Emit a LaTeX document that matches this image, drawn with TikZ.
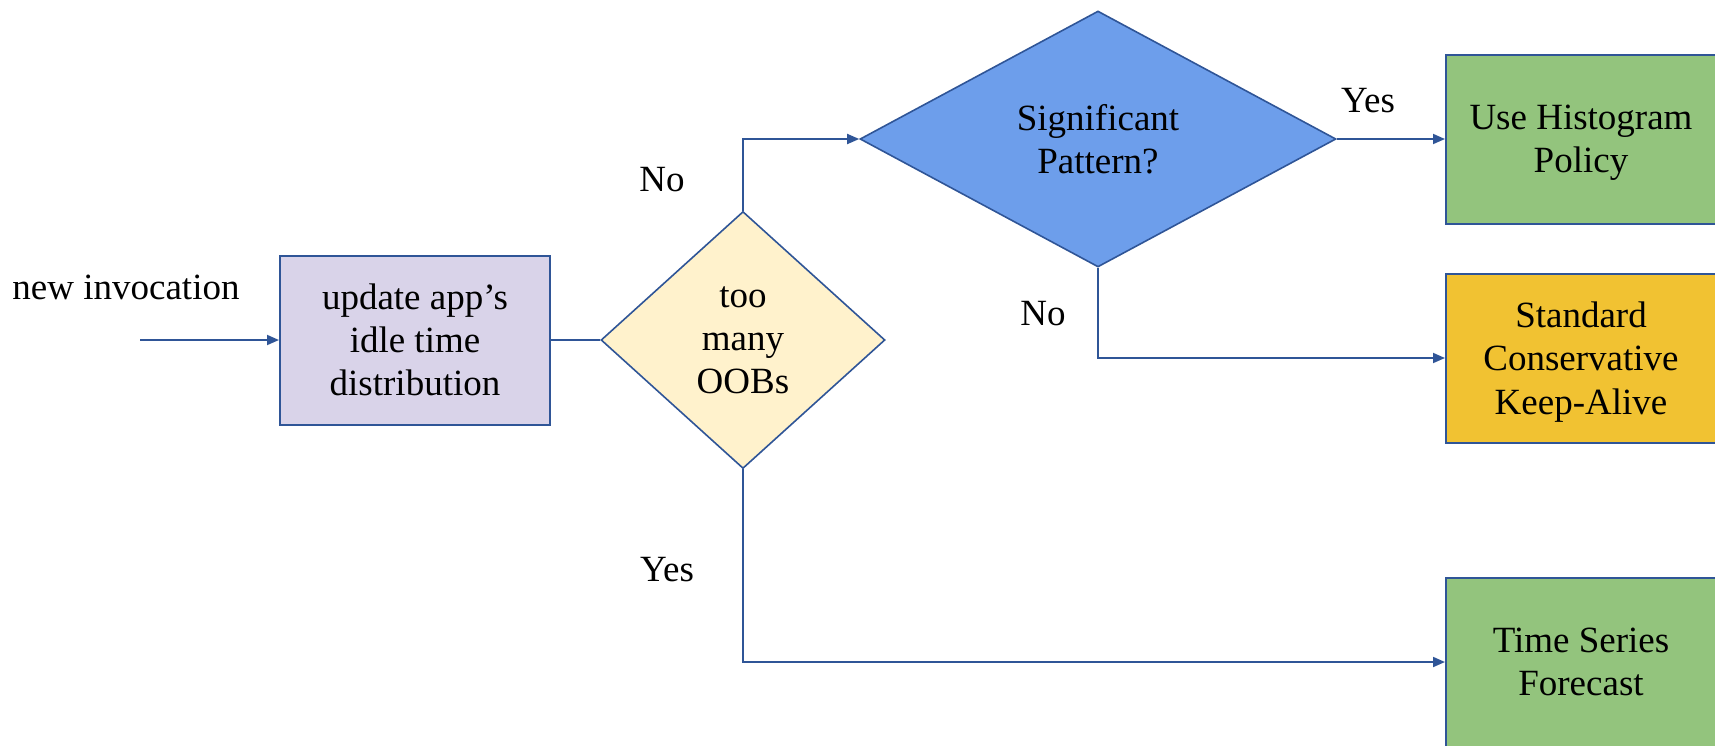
\documentclass[tikz,border=0pt]{standalone}
\usepackage{fontspec}
\setmainfont{Liberation Serif}
\usetikzlibrary{shapes.geometric,arrows.meta}
\definecolor{edgeblue}{HTML}{2F5597}
\definecolor{lavender}{HTML}{D9D3E9}
\definecolor{cream}{HTML}{FFF2CC}
\definecolor{skyblue}{HTML}{6D9EEB}
\definecolor{leafgreen}{HTML}{93C47D}
\definecolor{amber}{HTML}{F1C232}
\begin{document}
\begin{tikzpicture}[x=0.5pt,y=-0.5pt,
  every node/.style={font=\fontsize{18.5pt}{21.6pt}\selectfont, align=center},
  box/.style={draw=edgeblue, line width=1pt, rectangle, minimum width=135pt, minimum height=84.5pt, inner sep=0pt},
  outcome/.style={box, text depth=-1pt},
  decision/.style={draw=edgeblue, line width=0.8pt, diamond, inner sep=0pt},
  flow/.style={draw=edgeblue, line width=0.9pt},
  flowarrow/.style={flow, -{Triangle[length=6pt,width=5pt]}},
  lbl/.style={inner sep=0pt}
]
\useasboundingbox (0,0) rectangle (1715,745);

% process and decision nodes
\node[box, fill=lavender] (update) at (415,340) {update app's\\idle time\\distribution};
\node[decision, fill=cream, minimum width=142pt, minimum height=128.5pt] (oob) at (743,340) {too\\many\\OOBs};
\node[decision, fill=skyblue, minimum width=238pt, minimum height=128pt] (pattern) at (1098,139) {Significant\\Pattern?};

% outcome boxes (partly beyond the right and bottom edges)
\node[outcome, fill=leafgreen] (hist) at (1581,139) {Use Histogram\\Policy};
\node[outcome, fill=amber] (keep) at (1581,358) {Standard\\Conservative\\Keep-Alive};
\node[outcome, fill=leafgreen] (ts) at (1581,662) {Time Series\\Forecast};

% entry
\coordinate (start) at (140,340);
\node[lbl] (newinv) at (126,287) {new invocation};

% connectors
\draw[flowarrow] (start) -- (update.west);
\draw[flow] (update.east) -- (oob.west);
\draw[flowarrow] (oob.north) |- (pattern.west);
\draw[flowarrow] (pattern.east) -- (hist.west);
\draw[flowarrow] (pattern.south) |- (keep.west);
\draw[flowarrow] (oob.south) |- (ts.west);

% branch labels
\node[lbl] (noA) at (662,180) {No};
\node[lbl] (yesA) at (667,570) {Yes};
\node[lbl] (yesB) at (1368,101) {Yes};
\node[lbl] (noB) at (1043,314) {No};
\end{tikzpicture}
\end{document}
